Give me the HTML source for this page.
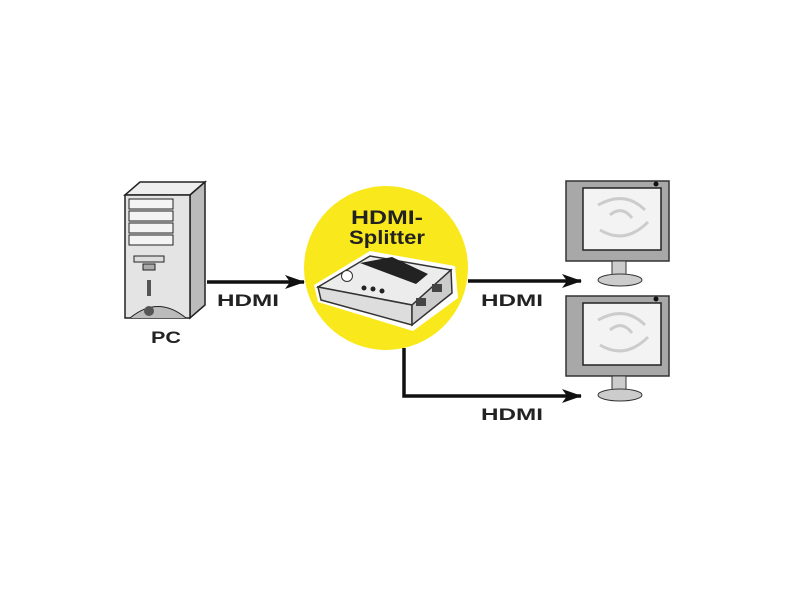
<!DOCTYPE html>
<html><head><style>
body{margin:0;background:#fff;width:800px;height:600px;overflow:hidden}
svg text{font-family:"Liberation Sans",sans-serif;font-weight:bold}
</style></head><body>
<svg width="800" height="600" viewBox="0 0 800 600" xmlns="http://www.w3.org/2000/svg">
<defs>
<marker id="b" viewBox="0 0 20 14" markerWidth="20" markerHeight="14" refX="19" refY="7" orient="auto" markerUnits="userSpaceOnUse">
<path d="M0,0 L20,7 L0,14 L5,7 Z" fill="#111"/></marker>
</defs>
<circle cx="386" cy="268" r="82" fill="#f9e81c"/>
<text x="387" y="224" font-size="19" text-anchor="middle" fill="#222" textLength="72" lengthAdjust="spacingAndGlyphs">HDMI-</text>
<text x="387" y="244" font-size="19" text-anchor="middle" fill="#222" textLength="76" lengthAdjust="spacingAndGlyphs">Splitter</text>
<polygon points="314,285 370,251 455,266 458,298 413,331 318,302" fill="#fff"/>
<polygon points="318,287 370,256 451,270 412,305" fill="#ececec" stroke="#333" stroke-width="1.5"/>
<polygon points="318,287 412,305 412,325 321,300" fill="#ddd" stroke="#333" stroke-width="1.5"/>
<polygon points="412,305 451,270 452,293 412,325" fill="#ccc" stroke="#333" stroke-width="1.5"/>
<polygon points="360,263 392,257 428,274 416,284" fill="#222"/>
<circle cx="347" cy="276" r="5.5" fill="#fff" stroke="#333"/>
<circle cx="364" cy="288" r="2.5" fill="#222"/><circle cx="373" cy="289" r="2.5" fill="#222"/><circle cx="382" cy="291" r="2.5" fill="#222"/>
<rect x="416" y="298" width="10" height="8" fill="#444"/><rect x="432" y="284" width="10" height="8" fill="#444"/>
<polygon points="125,195 140,182 205,182 190,195" fill="#eee" stroke="#222" stroke-width="1.5"/>
<polygon points="190,195 205,182 205,305 190,318" fill="#bbb" stroke="#222" stroke-width="1.5"/>
<rect x="125" y="195" width="65" height="123" fill="#e4e4e4" stroke="#222" stroke-width="1.5"/>
<rect x="129" y="199" width="44" height="10" fill="#f4f4f4" stroke="#222"/>
<rect x="129" y="211" width="44" height="10" fill="#f4f4f4" stroke="#222"/>
<rect x="129" y="223" width="44" height="10" fill="#f4f4f4" stroke="#222"/>
<rect x="129" y="235" width="44" height="10" fill="#f4f4f4" stroke="#222"/>
<rect x="134" y="256" width="30" height="6" fill="#ddd" stroke="#222"/>
<rect x="143" y="264" width="12" height="6" fill="#aaa" stroke="#222"/>
<rect x="147" y="280" width="4" height="16" fill="#555"/>
<path d="M130,318 Q158,295 186,318" fill="#bbb" stroke="#222"/>
<circle cx="149" cy="311" r="5" fill="#555"/>
<text x="166" y="343" font-size="17" text-anchor="middle" fill="#222" textLength="30" lengthAdjust="spacingAndGlyphs">PC</text>
<line x1="207" y1="282" x2="304" y2="282" stroke="#111" stroke-width="3.5" marker-end="url(#b)"/>
<text x="248" y="306" font-size="17" text-anchor="middle" fill="#222" textLength="62" lengthAdjust="spacingAndGlyphs">HDMI</text>
<line x1="468" y1="281" x2="581" y2="281" stroke="#111" stroke-width="3.5" marker-end="url(#b)"/>
<text x="512" y="306" font-size="17" text-anchor="middle" fill="#222" textLength="62" lengthAdjust="spacingAndGlyphs">HDMI</text>
<polyline points="404,348 404,396 581,396" fill="none" stroke="#111" stroke-width="3.5" marker-end="url(#b)"/>
<text x="512" y="420" font-size="17" text-anchor="middle" fill="#222" textLength="62" lengthAdjust="spacingAndGlyphs">HDMI</text>
<g id="m1">
<rect x="566" y="181" width="103" height="80" fill="#a8a8a8" stroke="#333" stroke-width="1.5"/>
<rect x="583" y="188" width="78" height="62" fill="#f3f3f3" stroke="#222" stroke-width="1.5"/>
<path d="M598,205 Q625,190 645,210 M600,230 Q625,245 648,222 M610,215 Q622,205 632,218" fill="none" stroke="#ccc" stroke-width="3"/>
<circle cx="656" cy="184" r="2.5" fill="#111"/>
<rect x="612" y="261" width="14" height="14" fill="#ccc" stroke="#333"/>
<ellipse cx="620" cy="280" rx="22" ry="6" fill="#ccc" stroke="#333"/>
</g>
<use href="#m1" transform="translate(0,115)"/>
</svg>
</body></html>
